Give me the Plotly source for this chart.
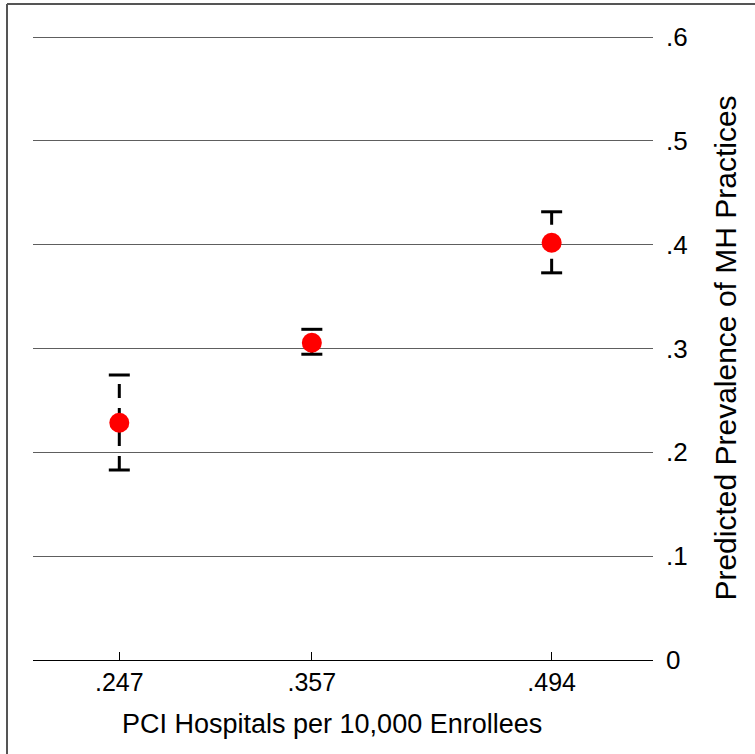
import plotly.graph_objects as go

# Data
x_vals = [0.247, 0.357, 0.494]
x_labels = [".247", ".357", ".494"]
pred = [0.2285, 0.3056, 0.4019]
ci_low = [0.183, 0.2945, 0.3729]
ci_high = [0.2745, 0.3185, 0.4317]
y_ticks = [0, 0.1, 0.2, 0.3, 0.4, 0.5, 0.6]
y_labels = ["0", ".1", ".2", ".3", ".4", ".5", ".6"]
x_title = "PCI Hospitals per 10,000 Enrollees"
y_title = "Predicted Prevalence of MH Practices"

FONT = "Liberation Sans, Arial, Helvetica, sans-serif"

fig = go.Figure()

# dashed stems of the confidence intervals
for xv, lo, hi in zip(x_vals, ci_low, ci_high):
    fig.add_trace(go.Scatter(
        x=[xv, xv], y=[lo, hi], mode="lines",
        line=dict(color="black", width=3, dash="14px,10px"),
        hoverinfo="skip", showlegend=False))

# caps
fig.add_trace(go.Scatter(
    x=x_vals + x_vals, y=ci_low + ci_high, mode="markers",
    marker=dict(symbol="line-ew", size=15, line=dict(color="black", width=3)),
    hoverinfo="skip", showlegend=False))

# point estimates
fig.add_trace(go.Scatter(
    x=x_vals, y=pred, mode="markers",
    marker=dict(color="#ff0000", size=20, line=dict(width=0)),
    showlegend=False))

L, T, PLOT_W, PLOT_H = 33, 36, 620, 624
fig.update_layout(
    width=755, height=754,
    margin=dict(l=L, r=755 - L - PLOT_W, t=T, b=754 - T - PLOT_H),
    paper_bgcolor="white", plot_bgcolor="white",
    font=dict(family=FONT, color="black", size=25),
    showlegend=False,
    xaxis=dict(
        range=[0.1977, 0.5519],
        tickmode="array", tickvals=x_vals, ticktext=x_labels,
        ticks="inside", ticklen=8, tickwidth=1, tickcolor="black",
        showline=True, linecolor="black", linewidth=1.3,
        showgrid=False, zeroline=False,
        tickfont=dict(size=25),
    ),
    yaxis=dict(
        range=[0, 0.601], side="right",
        tickmode="array", tickvals=y_ticks, ticktext=y_labels,
        ticks="", showline=False,
        showgrid=True, gridcolor="#5e5e5e", gridwidth=1.4,
        zeroline=False,
        tickfont=dict(size=26),
        ticklabelstandoff=12,
        title=dict(text=y_title, font=dict(size=30), standoff=28),
    ),
    annotations=[
        dict(text=x_title, xref="paper", yref="paper",
             x=(332 - L) / PLOT_W, y=(T + PLOT_H - 724) / PLOT_H,
             xanchor="center", yanchor="middle", showarrow=False,
             font=dict(size=27)),
    ],
    shapes=[
        dict(type="line", xref="paper", yref="paper",
             x0=(7 - L) / PLOT_W, x1=1.3,
             y0=(T + PLOT_H - 4) / PLOT_H, y1=(T + PLOT_H - 4) / PLOT_H,
             line=dict(color="#555555", width=2)),
        dict(type="line", xref="paper", yref="paper",
             x0=(7 - L) / PLOT_W, x1=(7 - L) / PLOT_W,
             y0=(T + PLOT_H - 4) / PLOT_H, y1=-0.3,
             line=dict(color="#555555", width=2)),
    ],
)

fig.write_html("out.html",
               config={"displayModeBar": False},
               post_script="document.body.style.margin='0';"
                           "document.body.style.overflow='hidden';")
